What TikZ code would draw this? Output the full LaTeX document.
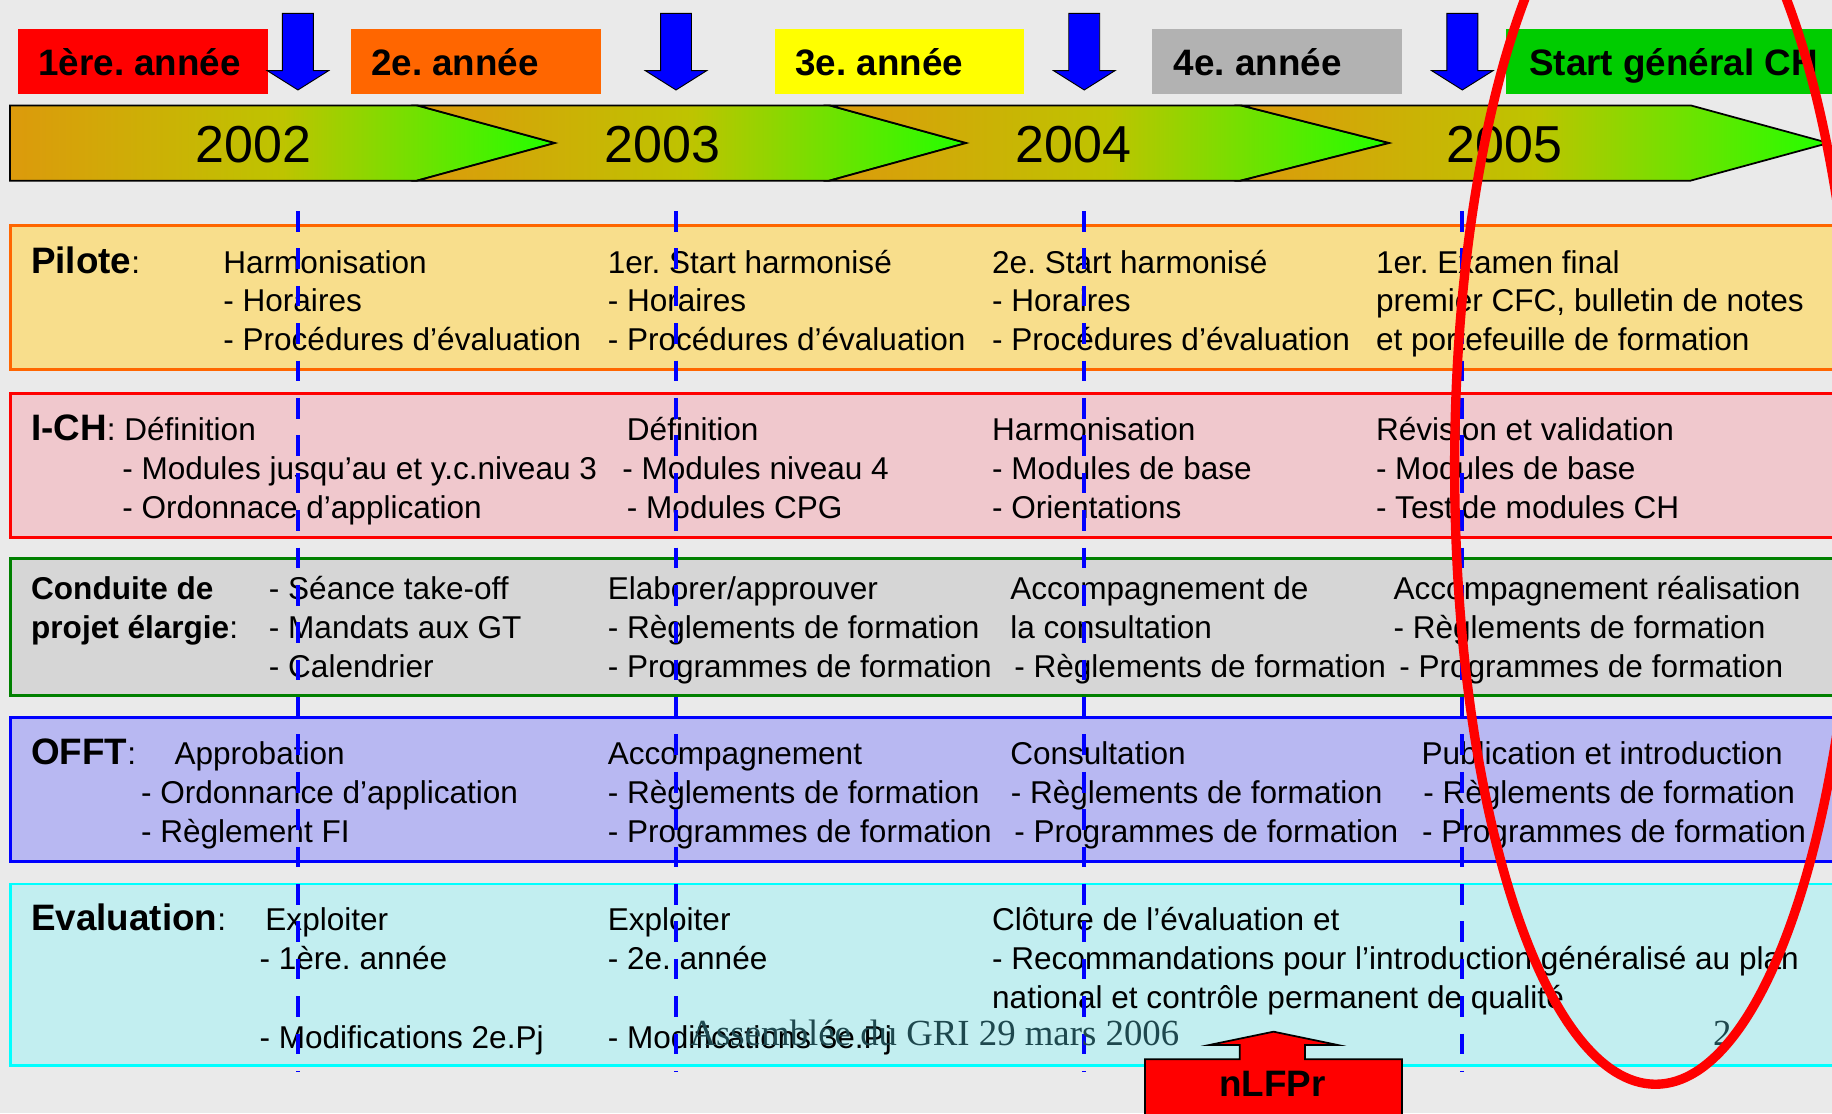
\documentclass[tikz,border=0pt]{standalone}
\usepackage{fontspec}
\setmainfont{Liberation Sans}
\newfontfamily\timesf{Liberation Serif}
\definecolor{bg}{RGB}{234,234,234}
\definecolor{chevL}{RGB}{220,154,12}
\definecolor{chevM}{RGB}{190,196,0}
\definecolor{chevR}{RGB}{34,255,0}
\definecolor{lbA}{RGB}{255,0,0}
\definecolor{lbB}{RGB}{255,102,0}
\definecolor{lbC}{RGB}{255,255,0}
\definecolor{lbD}{RGB}{178,178,178}
\definecolor{lbE}{RGB}{0,204,0}
\definecolor{pilF}{RGB}{248,222,140}
\definecolor{pilB}{RGB}{255,102,0}
\definecolor{ichF}{RGB}{240,200,205}
\definecolor{ichB}{RGB}{255,0,0}
\definecolor{cpF}{RGB}{214,214,214}
\definecolor{cpB}{RGB}{0,128,0}
\definecolor{ofF}{RGB}{184,184,242}
\definecolor{ofB}{RGB}{0,0,255}
\definecolor{evF}{RGB}{194,238,240}
\definecolor{evB}{RGB}{0,255,255}
\definecolor{footc}{RGB}{30,72,78}
\newcommand\hb[1]{{\fontsize{31.5}{36}\selectfont\bfseries #1}}
\frenchspacing
\begin{document}
\frenchspacing
\begin{tikzpicture}[x=1pt,y=-1pt,
  txt/.style={anchor=base west, inner sep=0pt, font=\fontsize{27}{30}\selectfont},
  yr/.style={anchor=center, inner sep=0pt, font=\fontsize{44.5}{50}\selectfont},
  lbltxt/.style={anchor=base west, inner sep=0pt, font=\fontsize{31.5}{36}\selectfont\bfseries},
  chev/.style={draw=black, line width=1.5pt, left color=chevL, right color=chevR, middle color=chevM},
  downarrow/.style={fill=blue, draw=black, line width=0.8pt},
  band/.style={line width=2.5pt},
  dashline/.style={draw=blue, line width=3.5pt, dash pattern=on 17.7pt off 14.3pt},
  foot/.style={anchor=base west, inner sep=0pt, font=\timesf\fontsize{31.5}{36}\selectfont, text=footc}]
\clip (0,0) rectangle (1568,953);
\fill[bg] (0,0) rectangle (1568,953);

% timeline chevrons
\path[chev] (8.6,90.2) -- (357,90.2) -- (475,122.4) -- (357,154.6) -- (8.6,154.6) -- cycle;
\path[chev] (357,90.2) -- (710,90.2) -- (827,122.4) -- (710,154.6) -- (357,154.6) -- (475,122.4) -- cycle;
\path[chev] (710,90.2) -- (1062,90.2) -- (1189,122.4) -- (1062,154.6) -- (710,154.6) -- (827,122.4) -- cycle;
\path[chev] (1062,90.2) -- (1447,90.2) -- (1565,122.4) -- (1447,154.6) -- (1062,154.6) -- (1189,122.4) -- cycle;
\node[yr] (y2002) at (216.7,123.8) {2002};
\node[yr] (y2003) at (567,123.8) {2003};
\node[yr] (y2004) at (918.6,123.8) {2004};
\node[yr] (y2005) at (1287.5,123.8) {2005};

% year labels
\fill[lbA] (15.6,24.8) rectangle (229.6,80.2);
\fill[lbB] (300.4,24.8) rectangle (514.3,80.2);
\fill[lbC] (663,24.8) rectangle (876,80.2);
\fill[lbD] (986,24.8) rectangle (1200,80.2);
\fill[lbE] (1289,24.8) rectangle (1600,80.2);
\node[lbltxt] (l1) at (32.6,64.2) {1ère. année};
\node[lbltxt] (l2) at (317.4,64.2) {2e. année};
\node[lbltxt] (l3) at (680.6,64.2) {3e. année};
\node[lbltxt] (l4) at (1004.4,64.2) {4e. année};
\node[lbltxt] (l5) at (1308.7,64.2) {Start général CH};

% blue down arrows
\foreach \cx in {255,578.6,928,1251.6}{
  \path[downarrow] (\cx-13.25,11.4) -- (\cx+13.25,11.4) -- (\cx+13.25,60.5) -- (\cx+26.25,60.5)
    -- (\cx,77) -- (\cx-26.25,60.5) -- (\cx-13.25,60.5) -- cycle;
}

% bands
\path[band, fill=pilF, draw=pilB] (8.6,193.2) rectangle (1600,316);
\path[band, fill=ichF, draw=ichB] (8.6,337) rectangle (1600,460);
\path[band, fill=cpF, draw=cpB] (8.6,477.9) rectangle (1600,595.4);
\path[band, fill=ofF, draw=ofB] (8.6,614.2) rectangle (1600,737.5);
\path[band, fill=evF, draw=evB] (8.6,756.6) rectangle (1600,912.3);

% Pilote
\node[txt] (pilH) at (26.5,234) {\hb{Pilote}:};
\node[txt] (p11) at (191,234) {Harmonisation};
\node[txt] (p12) at (191,267) {- Horaires};
\node[txt] (p13) at (191,300) {- Procédures d’évaluation};
\node[txt] (p21) at (520,234) {1er. Start harmonisé};
\node[txt] (p22) at (520,267) {- Horaires};
\node[txt] (p23) at (520,300) {- Procédures d’évaluation};
\node[txt] (p31) at (849,234) {2e. Start harmonisé};
\node[txt] (p32) at (849,267) {- Horaires};
\node[txt] (p33) at (849,300) {- Procédures d’évaluation};
\node[txt] (p41) at (1177.5,234) {1er. Examen final};
\node[txt] (p42) at (1177.5,267) {premier CFC, bulletin de notes};
\node[txt] (p43) at (1177.5,300) {et portefeuille de formation};

% I-CH
\node[txt] (ichH) at (26.5,376.6) {\hb{I-CH}: Définition};
\node[txt] (i12) at (104.5,410) {- Modules jusqu’au et y.c.niveau 3};
\node[txt] (i13) at (104.5,443.5) {- Ordonnace d’application};
\node[txt] (i21) at (536.4,376.6) {Définition};
\node[txt] (i22) at (532.4,410) {- Modules niveau 4};
\node[txt] (i23) at (536.4,443.5) {- Modules CPG};
\node[txt] (i31) at (849,376.6) {Harmonisation};
\node[txt] (i32) at (849,410) {- Modules de base};
\node[txt] (i33) at (849,443.5) {- Orientations};
\node[txt] (i41) at (1177.5,376.6) {Révision et validation};
\node[txt] (i42) at (1177.5,410) {- Modules de base};
\node[txt] (i43) at (1177.5,443.5) {- Test de modules CH};

% Conduite
\node[txt] (cpH1) at (26.5,513.5) {\textbf{Conduite de}};
\node[txt] (cpH2) at (26.5,546.5) {\textbf{projet élargie}:};
\node[txt] (c11) at (230,513.5) {- Séance take-off};
\node[txt] (c12) at (230,546.5) {- Mandats aux GT};
\node[txt] (c13) at (230,579.5) {- Calendrier};
\node[txt] (c21) at (520,513.5) {Elaborer/approuver};
\node[txt] (c22) at (520,546.5) {- Règlements de formation};
\node[txt] (c23) at (520,579.5) {- Programmes de formation};
\node[txt] (c31) at (864.5,513.5) {Accompagnement de};
\node[txt] (c32) at (864.5,546.5) {la consultation};
\node[txt] (c33) at (868,579.5) {- Règlements de formation};
\node[txt] (c41) at (1192.6,513.5) {Accompagnement réalisation};
\node[txt] (c42) at (1192.6,546.5) {- Règlements de formation};
\node[txt] (c43) at (1197.5,579.5) {- Programmes de formation};

% OFFT
\node[txt] (ofH) at (26.5,654.5) {\hb{OFFT}:};
\node[txt] (o11) at (149.2,654.5) {Approbation};
\node[txt] (o12) at (120.5,688) {- Ordonnance d’application};
\node[txt] (o13) at (120.5,721) {- Règlement FI};
\node[txt] (o21) at (520,654.5) {Accompagnement};
\node[txt] (o22) at (520,688) {- Règlements de formation};
\node[txt] (o23) at (520,721) {- Programmes de formation};
\node[txt] (o31) at (864.5,654.5) {Consultation};
\node[txt] (o32) at (864.9,688) {- Règlements de formation};
\node[txt] (o33) at (868,721) {- Programmes de formation};
\node[txt] (o41) at (1216.5,654.5) {Publication et introduction};
\node[txt] (o42) at (1218,688) {- Règlements de formation};
\node[txt] (o43) at (1217,721) {- Programmes de formation};

% Evaluation
\node[txt] (evH) at (26.5,796) {\hb{Evaluation}:};
\node[txt] (e11) at (227,796) {Exploiter};
\node[txt] (e12) at (222,830) {- 1ère. année};
\node[txt] (e13) at (222,897) {- Modifications 2e.Pj};
\node[txt] (e21) at (520,796) {Exploiter};
\node[txt] (e22) at (520,830) {- 2e. année};
\node[txt] (e23) at (520,897) {- Modifications 3e.Pj};
\node[txt] (e31) at (849,796) {Clôture de l’évaluation et};
\node[txt] (e32) at (849,830) {- Recommandations pour l’introduction généralisé au plan};
\node[txt] (e33) at (849,863) {national et contrôle permanent de qualité};

% dashed vertical lines
\foreach \k/\cx in {1/255,2/578.6,3/928,4/1251.6}{
  \coordinate (dt\k) at (\cx,180.6);
  \coordinate (db\k) at (\cx,917);
  \draw[dashline] (dt\k) -- (db\k);
}

% footer
\node[foot] (footer) at (590,894.4) {Assemblée du GRI 29 mars 2006};
\node[foot] (pgnum) at (1466,894.4) {2};

% nLFPr block arrow
\path[fill=lbA, draw=black, line width=1.5pt] (980,970) -- (980,906.6) -- (1061,906.6) -- (1061,894.4)
  -- (1035,894.4) -- (1090,883) -- (1145,894.4) -- (1117,894.4) -- (1117,906.6) -- (1200,906.6)
  -- (1200,970) -- cycle;
\node[lbltxt, anchor=base] (nlfpr) at (1089,938.6) {nLFPr};

% red ellipse
\draw[draw=lbA, line width=8pt] (1417,400) ellipse [x radius=172, y radius=528];
\end{tikzpicture}
\end{document}
